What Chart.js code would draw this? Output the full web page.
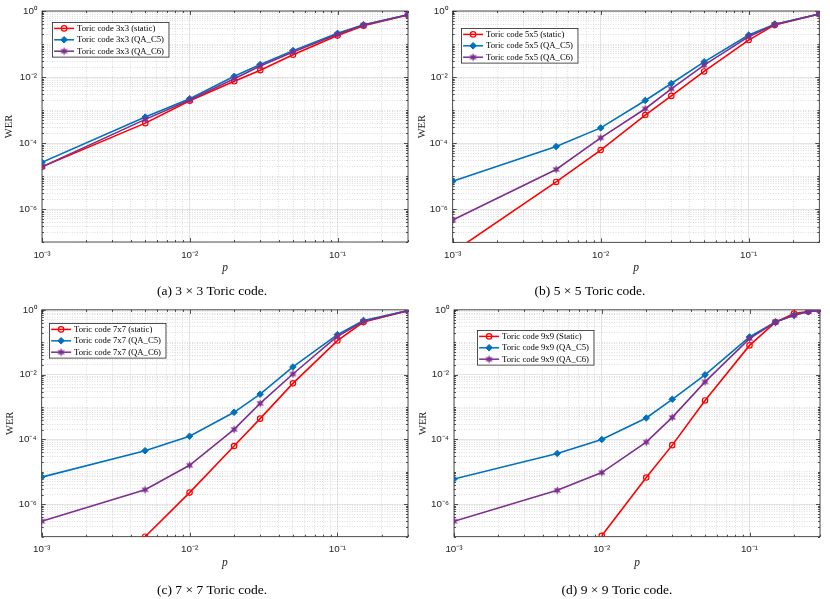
<!DOCTYPE html>
<html><head><meta charset="utf-8">
<script src="https://cdn.jsdelivr.net/npm/chart.js@4"></script>
<style>
html,body{margin:0;padding:0;background:#fff;}
#wrap{position:relative;width:830px;height:599px;overflow:hidden;}
canvas{position:absolute;}
</style></head><body>
<div id="wrap">
<canvas id="c1" width="415" height="299" style="left:0;top:0;width:415px;height:299px"></canvas>
<canvas id="c2" width="415" height="299" style="left:415px;top:0;width:415px;height:299px"></canvas>
<canvas id="c3" width="415" height="300" style="left:0;top:299px;width:415px;height:300px"></canvas>
<canvas id="c4" width="415" height="300" style="left:415px;top:299px;width:415px;height:300px"></canvas>
</div>
<script>
// ---------------- DATA ----------------
const pGrid  = [0.001, 0.005, 0.01, 0.02, 0.03, 0.05, 0.1, 0.15, 0.3];
const pGrid9 = [0.001, 0.005, 0.01, 0.02, 0.03, 0.05, 0.1, 0.15, 0.2, 0.25, 0.3];

const static3 = [1.9e-5, 4.0e-4, 1.9e-3, 7.4e-3, 0.016, 0.047, 0.18, 0.36, 0.76];
const qaC5_3  = [2.6e-5, 6.1e-4, 2.2e-3, 0.0105, 0.024, 0.063, 0.21, 0.38, 0.77];
const qaC6_3  = [1.9e-5, 5.2e-4, 2.0e-3, 8.9e-3, 0.0215, 0.057, 0.196, 0.375, 0.77];

const static5 = [5e-8, 6.7e-6, 6.2e-5, 7.1e-4, 2.7e-3, 0.0148, 0.132, 0.38, 0.81];
const qaC5_5  = [7e-6, 7.9e-5, 2.9e-4, 1.96e-3, 6.4e-3, 0.029, 0.187, 0.40, 0.81];
const qaC6_5  = [4.7e-7, 1.6e-5, 1.45e-4, 1.1e-3, 4.4e-3, 0.023, 0.167, 0.39, 0.81];

const static7 = [null, 1.0e-7, 2.3e-6, 6.3e-5, 4.4e-4, 5.4e-3, 0.113, 0.42, 0.95];
const qaC5_7  = [6.9e-6, 4.5e-5, 1.26e-4, 6.9e-4, 2.5e-3, 0.0173, 0.172, 0.47, 0.95];
const qaC6_7  = [3.0e-7, 2.8e-6, 1.6e-5, 2.05e-4, 1.3e-3, 0.0105, 0.154, 0.44, 0.95];

const static9 = [null, null, 1.07e-7, 6.7e-6, 6.7e-5, 1.6e-3, 0.08, 0.42, 0.77, 0.89, 0.96];
const qaC5_9  = [6e-6, 3.7e-5, 1.0e-4, 4.6e-4, 1.74e-3, 9.9e-3, 0.146, 0.42, 0.68, 0.89, 0.96];
const qaC6_9  = [3e-7, 2.7e-6, 9.5e-6, 8.3e-5, 4.8e-4, 6.0e-3, 0.13, 0.42, 0.68, 0.89, 0.96];

const names3 = ['Toric code 3x3 (static)', 'Toric code 3x3 (QA_C5)', 'Toric code 3x3 (QA_C6)'];
const names5 = ['Toric code 5x5 (static)', 'Toric code 5x5 (QA_C5)', 'Toric code 5x5 (QA_C6)'];
const names7 = ['Toric code 7x7 (static)', 'Toric code 7x7 (QA_C5)', 'Toric code 7x7 (QA_C6)'];
const names9 = ['Toric code 9x9 (Static)', 'Toric code 9x9 (QA_C5)', 'Toric code 9x9 (QA_C6)'];

const captions = ['(a) 3 \u00d7 3 Toric code.', '(b) 5 \u00d7 5 Toric code.', '(c) 7 \u00d7 7 Toric code.', '(d) 9 \u00d7 9 Toric code.'];
const xTickExps = [-3, -2, -1];
const yTickExps = [0, -2, -4, -6];
const xRange = [0.001, 0.3];
const yRange = [1e-7, 1];
const xTitle = 'p';
const yTitle = 'WER';

// ---------------- STYLE / LAYOUT ----------------
function hexagram(color) {
  const c = document.createElement('canvas');
  c.width = 9; c.height = 9;
  const g = c.getContext('2d');
  g.fillStyle = color;
  g.beginPath();
  for (let k = 0; k < 12; k++) {
    const r = (k % 2) ? 2.0 : 4.3;
    const a = -Math.PI / 2 + k * Math.PI / 6;
    const px = 4.5 + r * Math.cos(a), py = 4.5 + r * Math.sin(a);
    if (k) g.lineTo(px, py); else g.moveTo(px, py);
  }
  g.closePath(); g.fill();
  return c;
}
const styles = [
  {color: '#FF0000', marker: 'circle', r: 2.7, bw: 1.2, fill: 'rgba(255,255,255,0)'},
  {color: '#0072BD', marker: 'rectRot', r: 3.3, bw: 1, fill: '#0072BD'},
  {color: '#7E2F8E', marker: hexagram('#7E2F8E'), r: 3.5, bw: 1, fill: '#7E2F8E'}
];
const layouts = [
  {H: 299, L: 42,   T: 11,  R: 409,   B: 242,   capX: 212, capY: 291.5, werX: 9,   legDx: 9.7,  legDy: 10.7},
  {H: 299, L: 37.7, T: 11,  R: 404.3, B: 242.3, capX: 175, capY: 291.5, werX: 7.5, legDx: 8,    legDy: 17.3},
  {H: 300, L: 41.7, T: 8.3, R: 409.3, B: 237.7, capX: 212, capY: 291,   werX: 10,  legDx: 7.6,  legDy: 13.4},
  {H: 300, L: 39,   T: 8.3, R: 405,   B: 237.7, capX: 202, capY: 291,   werX: 8,   legDx: 23.3, legDy: 20}
];
const AXIS = '#262626';
const MAJ = '#d8d8d8', MIN = '#c8c8c8';

const SUP = {'-': '\u207b', '0': '\u2070', '1': '\u00b9', '2': '\u00b2', '3': '\u00b3', '4': '\u2074', '5': '\u2075', '6': '\u2076', '7': '\u2077', '8': '\u2078', '9': '\u2079'};
function expOf(v) { const l = Math.log10(v); const e = Math.round(l); return Math.abs(l - e) < 1e-6 ? e : null; }
function label(v, exps) { const e = expOf(v); if (e === null || !exps.includes(e)) return ''; return '10' + String(e).split('').map(ch => SUP[ch]).join(''); }
function logTicks(min, max) {
  const out = [];
  for (let e = Math.floor(Math.log10(min)); e <= Math.ceil(Math.log10(max)); e++) {
    for (let m = 1; m <= 9; m++) {
      const v = parseFloat((m * Math.pow(10, e)).toPrecision(10));
      if (v >= min * 0.9999 && v <= max * 1.0001) out.push(v);
    }
  }
  return out;
}
const isMajX = v => { const e = expOf(v); return e !== null && xTickExps.includes(e); };
const isMajY = v => { const e = expOf(v); return e !== null && yTickExps.includes(e); };

function drawMarker(ctx, st, x, y) {
  ctx.save();
  ctx.strokeStyle = st.color; ctx.fillStyle = st.fill; ctx.lineWidth = st.bw;
  if (st.marker === 'circle') {
    ctx.beginPath(); ctx.arc(x, y, st.r, 0, Math.PI * 2); ctx.stroke();
  } else if (st.marker === 'rectRot') {
    ctx.beginPath(); ctx.moveTo(x, y - st.r); ctx.lineTo(x + st.r, y); ctx.lineTo(x, y + st.r); ctx.lineTo(x - st.r, y); ctx.closePath(); ctx.fill(); ctx.stroke();
  } else {
    ctx.drawImage(st.marker, x - st.marker.width / 2, y - st.marker.height / 2);
  }
  ctx.restore();
}

const decorPlugin = {
  id: 'decor',
  beforeDatasetsDraw(chart) {
    const {ctx, chartArea: a, scales: {x, y}} = chart;
    ctx.save();
    ctx.strokeStyle = AXIS; ctx.lineWidth = 0.8;
    ctx.beginPath();
    x.ticks.forEach(t => {
      const px = Math.round(x.getPixelForValue(t.value)) + 0.5;
      const len = isMajX(t.value) ? 4 : 2;
      ctx.moveTo(px, a.bottom); ctx.lineTo(px, a.bottom - len);
      ctx.moveTo(px, a.top); ctx.lineTo(px, a.top + len);
    });
    y.ticks.forEach(t => {
      const py = Math.round(y.getPixelForValue(t.value)) + 0.5;
      const len = isMajY(t.value) ? 4 : 2;
      ctx.moveTo(a.left, py); ctx.lineTo(a.left + len, py);
      ctx.moveTo(a.right, py); ctx.lineTo(a.right - len, py);
    });
    ctx.stroke();
    ctx.strokeRect(a.left, a.top, a.right - a.left, a.bottom - a.top);
    ctx.restore();
  }
};
const legendPlugin = {
  id: 'boxLegend',
  afterDatasetsDraw(chart, args, opts) {
    const {ctx, chartArea: a} = chart;
    const ds = chart.data.datasets;
    ctx.save();
    ctx.font = '8.7px "Liberation Serif"';
    const tw = Math.max(...ds.map(d => ctx.measureText(d.label).width));
    const rowH = 11.4;
    const w = 24.5 + tw + 5, h = rowH * ds.length + 0.4;
    const x0 = Math.round(a.left + opts.dx) + 0.5, y0 = Math.round(a.top + opts.dy) + 0.5;
    ctx.fillStyle = '#fff'; ctx.fillRect(x0, y0, w, h);
    ctx.strokeStyle = AXIS; ctx.lineWidth = 0.8; ctx.strokeRect(x0, y0, w, h);
    ds.forEach((d, i) => {
      const st = styles[i];
      const cy = y0 + rowH * (i + 0.5) + 0.2;
      ctx.strokeStyle = st.color; ctx.lineWidth = 1.5;
      ctx.beginPath(); ctx.moveTo(x0 + 1.6, cy); ctx.lineTo(x0 + 21.6, cy); ctx.stroke();
      drawMarker(ctx, st, x0 + 11.6, cy);
      ctx.fillStyle = '#000'; ctx.textBaseline = 'middle'; ctx.textAlign = 'left';
      ctx.fillText(d.label, x0 + 24.5, cy + 0.3);
    });
    ctx.restore();
  }
};
const captionPlugin = {
  id: 'caption',
  afterDraw(chart, args, opts) {
    const ctx = chart.ctx;
    ctx.save();
    ctx.font = '13.5px "Liberation Serif"';
    ctx.fillStyle = '#000'; ctx.textAlign = 'center'; ctx.textBaseline = 'middle';
    ctx.fillText(opts.text, opts.x, opts.y);
    ctx.restore();
  }
};

function makeChart(id, lay, xs, series, names, caption) {
  const Hx = 40;
  const datasets = series.map((vals, i) => ({
    label: names[i],
    data: xs.map((p, j) => ({x: p, y: vals[j]})),
    showLine: true, tension: 0, spanGaps: false,
    borderColor: styles[i].color, borderWidth: 1.6,
    pointStyle: styles[i].marker, pointRadius: styles[i].r,
    pointBorderWidth: styles[i].bw, pointBorderColor: styles[i].color,
    pointBackgroundColor: styles[i].fill, order: 3 - i
  }));
  const gridOpts = isMaj => ({
    drawTicks: false,
    color: c => (c.tick && isMaj(c.tick.value)) ? MAJ : MIN,
    lineWidth: c => (c.tick && isMaj(c.tick.value)) ? 0.7 : 0.6,
    borderDash: c => (c.tick && isMaj(c.tick.value)) ? [] : [1, 1.5]
  });
  const borderOpts = isMaj => ({display: false, dash: c => (c.tick && isMaj(c.tick.value)) ? [] : [1, 1.5]});
  return new Chart(document.getElementById(id), {
    type: 'scatter',
    data: {datasets},
    plugins: [decorPlugin, legendPlugin, captionPlugin],
    options: {
      responsive: false, animation: false, events: [],
      layout: {padding: {left: 0, top: lay.T, right: 415 - lay.R, bottom: lay.H - lay.B - Hx}},
      plugins: {
        legend: {display: false}, tooltip: {enabled: false}, title: {display: false},
        boxLegend: {dx: lay.legDx, dy: lay.legDy},
        caption: {text: caption, x: lay.capX, y: lay.capY}
      },
      scales: {
        x: {
          type: 'logarithmic', position: 'bottom', min: xRange[0], max: xRange[1],
          afterBuildTicks: s => { s.ticks = logTicks(xRange[0], xRange[1]).map(v => ({value: v})); },
          afterFit: s => { s.height = Hx; },
          ticks: {autoSkip: false, maxRotation: 0, minRotation: 0, padding: 7, color: AXIS,
            font: {family: 'Liberation Sans', size: 9.8}, callback: v => label(v, xTickExps)},
          grid: gridOpts(isMajX), border: borderOpts(isMajX),
          title: {display: true, text: xTitle, color: AXIS,
            font: {family: 'Liberation Serif', size: 11.5, style: 'italic'}, padding: {top: 0, bottom: Hx - 6.9 - 26}}
        },
        y: {
          type: 'logarithmic', position: 'left', min: yRange[0], max: yRange[1],
          afterBuildTicks: s => { s.ticks = logTicks(yRange[0], yRange[1]).map(v => ({value: v})); },
          afterFit: s => { s.width = lay.L; },
          ticks: {autoSkip: false, padding: 5, color: AXIS,
            font: {family: 'Liberation Sans', size: 9.8}, callback: v => label(v, yTickExps)},
          grid: gridOpts(isMajY), border: borderOpts(isMajY),
          title: {display: true, text: yTitle, color: AXIS,
            font: {family: 'Liberation Serif', size: 10.5}, padding: {top: lay.werX - 6.3, bottom: 0}}
        }
      }
    }
  });
}

makeChart('c1', layouts[0], pGrid,  [static3, qaC5_3, qaC6_3], names3, captions[0]);
makeChart('c2', layouts[1], pGrid,  [static5, qaC5_5, qaC6_5], names5, captions[1]);
makeChart('c3', layouts[2], pGrid,  [static7, qaC5_7, qaC6_7], names7, captions[2]);
makeChart('c4', layouts[3], pGrid9, [static9, qaC5_9, qaC6_9], names9, captions[3]);
</script>
</body></html>
